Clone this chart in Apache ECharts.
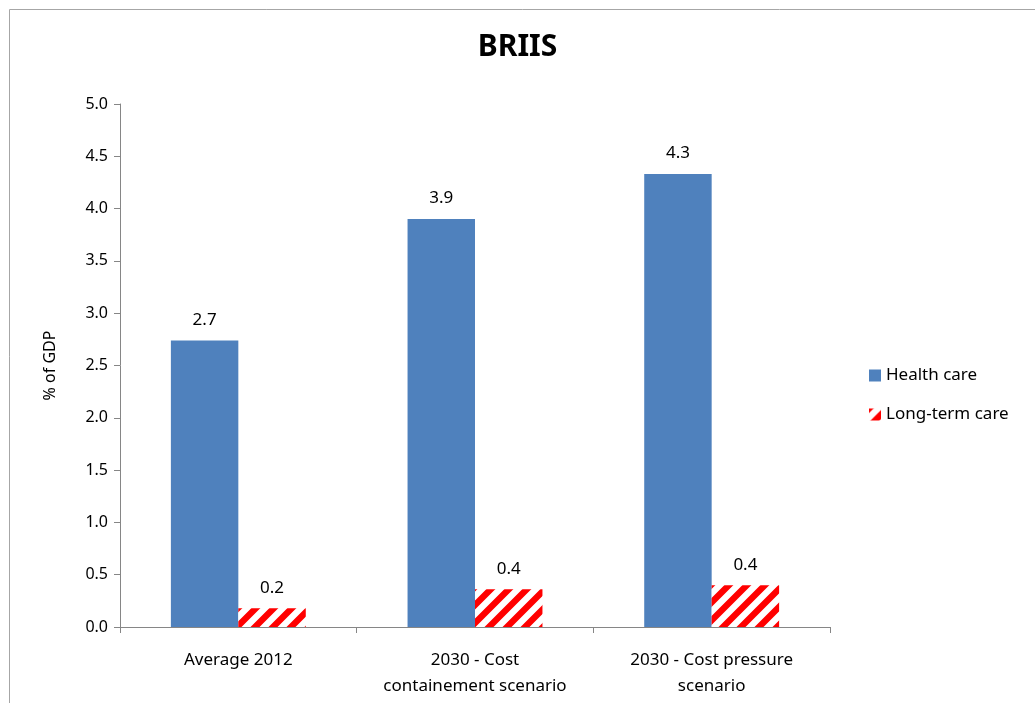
<!DOCTYPE html>
<html>
<head>
<meta charset="utf-8">
<script src="https://cdn.jsdelivr.net/npm/echarts@6/dist/echarts.min.js"></script>
<style>
  html, body { margin: 0; padding: 0; background: #fff; }
  #chart { width: 1035px; height: 703px; }
</style>
</head>
<body>
<div id="chart"></div>
<script>
// data
const categories = ['Average 2012', '2030 - Cost\ncontainement scenario', '2030 - Cost pressure\nscenario'];
const healthCare = [2.74, 3.90, 4.33];
const longTermCare = [0.18, 0.36, 0.40];
const yTicks = [0, 0.5, 1.0, 1.5, 2.0, 2.5, 3.0, 3.5, 4.0, 4.5, 5.0];

const font = '"Noto Sans", "Open Sans", sans-serif';

// red / white diagonal stripes for long-term care
function stripes() {
    const s = 18;
    const c = document.createElement('canvas');
    c.width = s; c.height = s;
    const ctx = c.getContext('2d');
    ctx.fillStyle = '#fff';
    ctx.fillRect(0, 0, s, s);
    ctx.strokeStyle = '#ff0000';
    ctx.lineWidth = s / 2 * Math.SQRT1_2;
    ctx.beginPath();
    for (let k = -1; k <= 1; k++) {
        // overshoot the tile so the caps don't leave seams
        ctx.moveTo(k * s - s, 2 * s);
        ctx.lineTo(k * s + 2 * s, -s);
    }
    ctx.stroke();
    return c;
}
const stripePattern = { image: stripes(), repeat: 'repeat' };

const chart = echarts.init(document.getElementById('chart'));
chart.setOption({
    animation: false,
    textStyle: { fontFamily: font },
    title: {
        text: 'BRIIS',
        left: 'center',
        top: 27,
        textStyle: { fontSize: 30, fontWeight: 'bold', color: '#000', fontFamily: font }
    },
    graphic: [{
        type: 'rect',
        shape: { x: 9.5, y: 9.5, width: 1040, height: 710 },
        style: { fill: 'none', stroke: '#a6a6a6', lineWidth: 1 },
        silent: true
    }],
    legend: {
        orient: 'vertical',
        left: 864,
        top: 362,
        itemWidth: 12,
        itemHeight: 12,
        itemGap: 22,
        textStyle: { fontSize: 17, color: '#000', fontFamily: font },
        data: [
            { name: 'Health care', icon: 'rect' },
            { name: 'Long-term care', icon: 'rect' }
        ]
    },
    grid: { left: 120, right: 205, top: 104, bottom: 76 },
    xAxis: {
        type: 'category',
        data: categories,
        axisLine: { lineStyle: { color: '#868686' } },
        axisTick: { show: true, length: 6, lineStyle: { color: '#868686' } },
        axisLabel: { fontSize: 17, color: '#000', margin: 20, lineHeight: 26, interval: 0 }
    },
    yAxis: {
        type: 'value',
        min: yTicks[0],
        max: yTicks[yTicks.length - 1],
        interval: 0.5,
        name: '% of GDP',
        nameLocation: 'middle',
        nameGap: 62,
        nameRotate: 90,
        nameTextStyle: { fontSize: 16, color: '#000' },
        axisLine: { show: true, lineStyle: { color: '#868686' } },
        axisTick: { show: true, length: 6, lineStyle: { color: '#868686' } },
        splitLine: { show: false },
        axisLabel: {
            fontSize: 16, color: '#000', margin: 12,
            formatter: v => v.toFixed(1)
        }
    },
    series: [
        {
            name: 'Health care',
            type: 'bar',
            data: healthCare,
            barGap: '0%',
            barCategoryGap: '43%',
            itemStyle: { color: '#4f81bd' },
            label: {
                show: true, position: 'top', distance: 12,
                fontSize: 17, color: '#000',
                formatter: p => p.value.toFixed(1)
            }
        },
        {
            name: 'Long-term care',
            type: 'bar',
            data: longTermCare,
            itemStyle: { color: stripePattern },
            label: {
                show: true, position: 'top', distance: 12,
                fontSize: 17, color: '#000',
                formatter: p => p.value.toFixed(1)
            }
        }
    ]
});
</script>
</body>
</html>
